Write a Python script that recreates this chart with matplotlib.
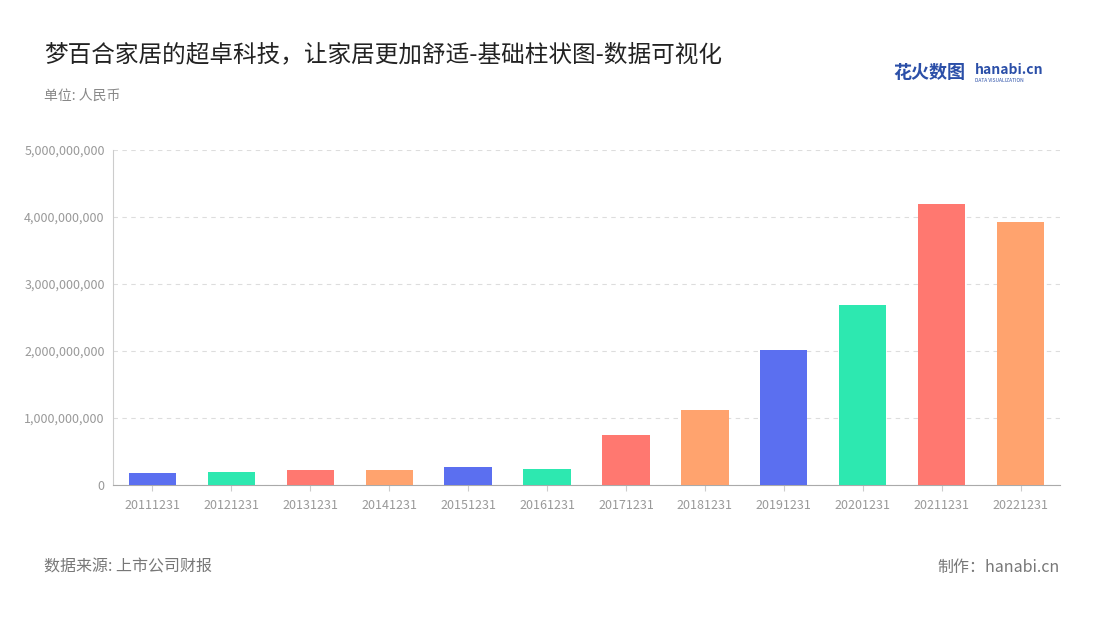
import matplotlib
matplotlib.use("Agg")
import matplotlib.pyplot as plt
from matplotlib.ticker import FuncFormatter

plt.rcParams['font.family'] = ['Noto Sans CJK SC', 'DejaVu Sans']

categories = ["20111231","20121231","20131231","20141231","20151231","20161231",
              "20171231","20181231","20191231","20201231","20211231","20221231"]
values = [0.18e9,0.20e9,0.225e9,0.225e9,0.27e9,0.245e9,0.75e9,1.12e9,2.02e9,2.68e9,4.19e9,3.93e9]
palette = ["#5b6ff0","#2de8b0","#ff7870","#ffa36e"]

fig = plt.figure(figsize=(11,6.2), dpi=100)
ax = fig.add_axes([113/1100, 1-485/620, (1060-113)/1100, (485-150)/620])
x = range(len(categories))
ax.bar(x, values, width=0.6, color=[palette[i % 4] for i in x], zorder=3)
ax.set_xlim(-0.5, len(categories)-0.5)
ax.set_ylim(0, 5e9)
ax.set_yticks([0,1e9,2e9,3e9,4e9,5e9])
ax.yaxis.set_major_formatter(FuncFormatter(lambda v,p: f"{int(v):,}"))
ax.set_xticks(list(x))
ax.set_xticklabels(categories)
ax.tick_params(axis='both', colors='#999999', labelsize=9, length=0, pad=6)
ax.tick_params(axis='x', length=4, color='#cccccc')
ax.grid(axis='y', linestyle=(0,(4,4)), color='#dddddd', zorder=0)
for s in ['top','right']:
    ax.spines[s].set_visible(False)
ax.spines['left'].set_color('#cccccc')
ax.spines['bottom'].set_color('#aaaaaa')

fig.text(44/1100, 1-55/620, "梦百合家居的超卓科技，让家居更加舒适-基础柱状图-数据可视化", fontsize=17, color='#222222', va='center')
fig.text(44/1100, 1-96/620, "单位: 人民币", fontsize=10, color='#888888', va='center')
fig.text(44/1100, 1-567/620, "数据来源: 上市公司财报", fontsize=11.5, color='#777777', va='center')
fig.text(1060/1100, 1-567/620, "制作：hanabi.cn", fontsize=11.5, color='#777777', va='center', ha='right')
fig.text(893/1100, 1-73/620, "花火数图", fontsize=13, color='#2b4fa8', va='center', fontweight='bold')
fig.text(975/1100, 1-70/620, "hanabi.cn", fontsize=10, color='#2b4fa8', va='center', fontweight='bold')
fig.text(975/1100, 1-81/620, "DATA VISUALIZATION", fontsize=3.5, color='#2b4fa8', va='center')
fig.savefig("out.png", dpi=100)
